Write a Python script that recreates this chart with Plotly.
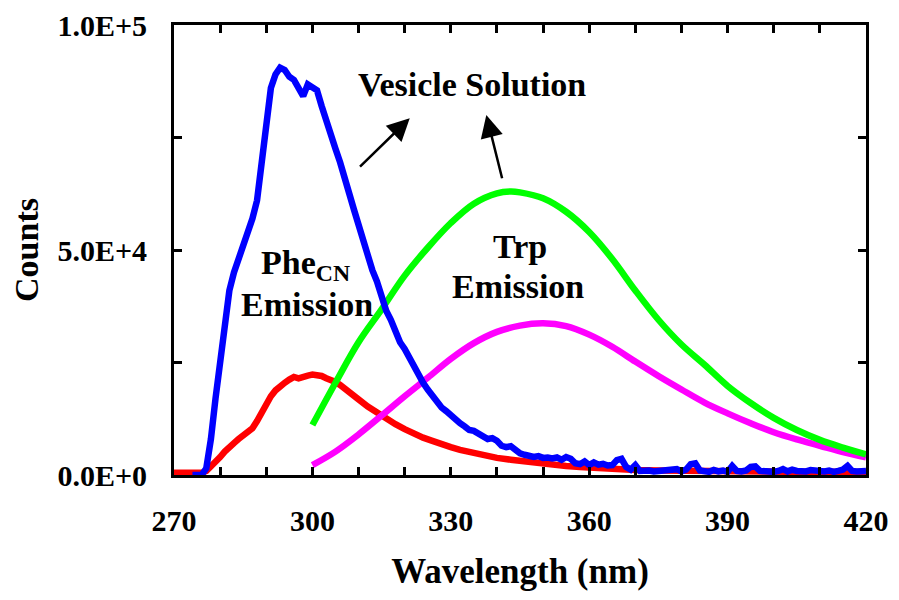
import plotly.graph_objects as go

# ---------------- data ----------------
blue_x = [274, 276, 277, 278, 279, 280, 281, 282, 283, 284, 285, 286, 287, 288, 289, 290,
          291, 292, 293, 294, 295, 296, 297, 298, 299, 300, 301, 302, 303, 304, 305, 306,
          307, 308, 309, 310, 311, 312, 313, 314, 315, 316, 317, 318, 319, 320, 321, 322,
          323, 324, 325, 326, 327, 328, 329, 330, 331, 332, 333, 334, 335, 336, 337, 338,
          339, 340, 341, 342, 343, 344, 345, 346, 347, 348, 349, 350, 351, 352, 353, 354,
          355, 356, 357, 358, 359, 360, 361, 362, 363, 364, 365, 366, 367, 368, 369, 370,
          371, 372, 373, 374, 375, 376, 377, 378, 379, 380, 381, 382, 383, 384, 385, 386,
          387, 388, 389, 390, 391, 392, 393, 394, 395, 396, 397, 398, 399, 400, 401, 402,
          403, 404, 405, 406, 407, 408, 409, 410, 411, 412, 413, 414, 415, 416, 417, 418,
          419, 420]
blue_y = [0, 0, 1500, 8000, 17000, 26000, 34000, 41000, 45000, 48000, 50500, 53000, 57000, 61000, 69000, 79000,
          86000, 89000, 90500, 90000, 88500, 87800, 86000, 84200, 86800, 86000, 85500, 82000, 78500, 75500, 72500, 69500,
          66500, 62500, 59000, 55500, 51500, 48000, 45500, 43000, 39500, 36500, 34500, 32000, 29500, 28000, 26000, 24000,
          22500, 20500, 19000, 17500, 16500, 15000, 14200, 13200, 12500, 11500, 10800, 10000, 9800, 9200, 8800, 8000,
          8200, 7600, 6500, 6200, 6400, 5600, 4800, 4500, 4300, 4000, 4200, 3800, 3900, 3700, 3900, 3400,
          4000, 3600, 2600, 2400, 3000, 2200, 2800, 2300, 2500, 2100, 2200, 3300, 3600, 1800, 1200, 2200,
          900, 1100, 1000, 800, 900, 1100, 900, 1000, 1300, 800, 1200, 2400, 2600, 1000, 900, 700,
          1100, 800, 1000, 700, 2000, 900, 800, 1000, 1800, 1900, 900, 800, 1000, 700, 900, 1300,
          800, 1200, 900, 700, 800, 1100, 900, 700, 800, 1000, 700, 900, 1200, 2000, 900, 800,
          700, 900]

red_x = [270, 272, 274, 276, 277, 278, 279, 280, 281, 282, 283, 284, 285, 286, 287, 288, 289, 290,
         291, 292, 293, 294, 295, 296, 297, 298, 299, 300, 301, 302, 303, 304, 305, 306, 307, 308,
         309, 310, 312, 314, 316, 318, 320, 322, 324, 326, 328, 330, 332, 334, 336, 338, 340, 343,
         346, 349, 352, 355, 358, 362, 366, 370, 375, 380, 385, 390, 395, 400, 405, 410, 415, 420]
red_y = [500, 400, 400, 500, 900, 1800, 3000, 4000, 5200, 6400, 7100, 8000, 8700, 9500, 10400, 12000, 14000, 16000,
         17500, 18800, 19800, 20500, 21200, 21800, 21500, 21900, 22100, 22300, 22200, 22000, 21500, 21200, 20700, 20000, 19300, 18500,
         17800, 16800, 15200, 13800, 12400, 11300, 10200, 9200, 8300, 7600, 6800, 6200, 5600, 5100, 4600, 4200, 3800, 3400,
         3000, 2600, 2300, 2000, 1800, 1500, 1300, 1100, 1000, 900, 850, 800, 750, 750, 700, 700, 650, 650]

green_x = [300, 305, 310, 315, 320, 325, 330, 335, 340, 343, 345, 350, 355, 360, 365, 370,
           375, 380, 385, 390, 395, 400, 405, 410, 415, 420]
green_y = [11100, 20500, 29500, 36800, 44300, 50500, 56000, 60300, 62600, 63000, 62800, 61500, 58500, 54000, 48000, 41000,
           34500, 29000, 24500, 19800, 16000, 12700, 10000, 7800, 6100, 4600]

magenta_x = [300, 305, 310, 315, 320, 325, 330, 335, 340, 345, 350, 355, 360, 365, 370,
             375, 380, 385, 390, 395, 400, 405, 410, 415, 420]
magenta_y = [2200, 5200, 9000, 13200, 17500, 21600, 25800, 29300, 31800, 33200, 33700, 33100, 31200, 28500, 25200,
             22000, 19000, 16100, 13700, 11500, 9500, 7900, 6500, 5100, 3900]

x_tick_vals = list(range(270, 421, 10))
x_tick_text = ["270", "", "", "300", "", "", "330", "", "", "360", "", "", "390", "", "", "420"]
y_tick_vals = [0, 25000, 50000, 75000, 100000]
y_tick_text = ["0.0E+0", "", "5.0E+4", "", "1.0E+5"]

# ---------------- figure ----------------
FONT = "Times New Roman, Liberation Serif, serif"
LW = 6.5

fig = go.Figure()
fig.add_trace(go.Scatter(x=red_x, y=red_y, mode="lines", line=dict(color="#FF0000", width=LW)))
fig.add_trace(go.Scatter(x=magenta_x, y=magenta_y, mode="lines", line=dict(color="#FF00FF", width=LW, shape="spline")))
fig.add_trace(go.Scatter(x=green_x, y=green_y, mode="lines", line=dict(color="#00FF00", width=LW, shape="spline")))
fig.add_trace(go.Scatter(x=blue_x, y=blue_y, mode="lines", line=dict(color="#0000FF", width=LW)))

axis_common = dict(
    showline=True, linecolor="black", linewidth=3, mirror="allticks",
    ticks="inside", ticklen=8, tickwidth=3, tickcolor="black",
    showgrid=False, zeroline=False, automargin=False,
    tickfont=dict(family=FONT, size=30, color="black", weight="bold"),
)

# page body has an 8px margin, so the figure is made 8px smaller
fig.update_layout(
    width=891, height=592,
    margin=dict(l=166, r=33, t=17, b=125),
    paper_bgcolor="white", plot_bgcolor="white",
    showlegend=False,
    xaxis=dict(range=[270, 420], tickmode="array", tickvals=x_tick_vals, ticktext=x_tick_text,
               ticklabelstandoff=17,
               title=dict(text="Wavelength (nm)", font=dict(family=FONT, size=35, color="black", weight="bold"),
                          standoff=23),
               **axis_common),
    yaxis=dict(range=[0, 100000], tickmode="array", tickvals=y_tick_vals, ticktext=y_tick_text,
               ticklabelstandoff=18,
               title=dict(text="Counts", font=dict(family=FONT, size=34, color="black", weight="bold"),
                          standoff=16),
               **axis_common),
)

txt_font = dict(family=FONT, size=34, color="black", weight="bold")
annots = [
    dict(x=334.7, y=86700, text="Vesicle Solution"),
    dict(x=298.5, y=46700, text="Phe<sub>CN</sub>"),
    dict(x=298.9, y=37800, text="Emission"),
    dict(x=344.9, y=50700, text="Trp"),
    dict(x=344.5, y=41800, text="Emission"),
]
for a in annots:
    fig.add_annotation(x=a["x"], y=a["y"], text=a["text"], showarrow=False, font=txt_font,
                       xanchor="center", yanchor="middle")

arrows = [
    dict(x=321.1, y=79300, ax=310.0, ay=68200),
    dict(x=337.7, y=80000, ax=341.2, ay=65600),
]
for a in arrows:
    fig.add_annotation(x=a["x"], y=a["y"], ax=a["ax"], ay=a["ay"], axref="x", ayref="y",
                       text="", showarrow=True, arrowhead=2, arrowsize=1.8, arrowwidth=2.5,
                       arrowcolor="black")

fig.write_html("out.html")
